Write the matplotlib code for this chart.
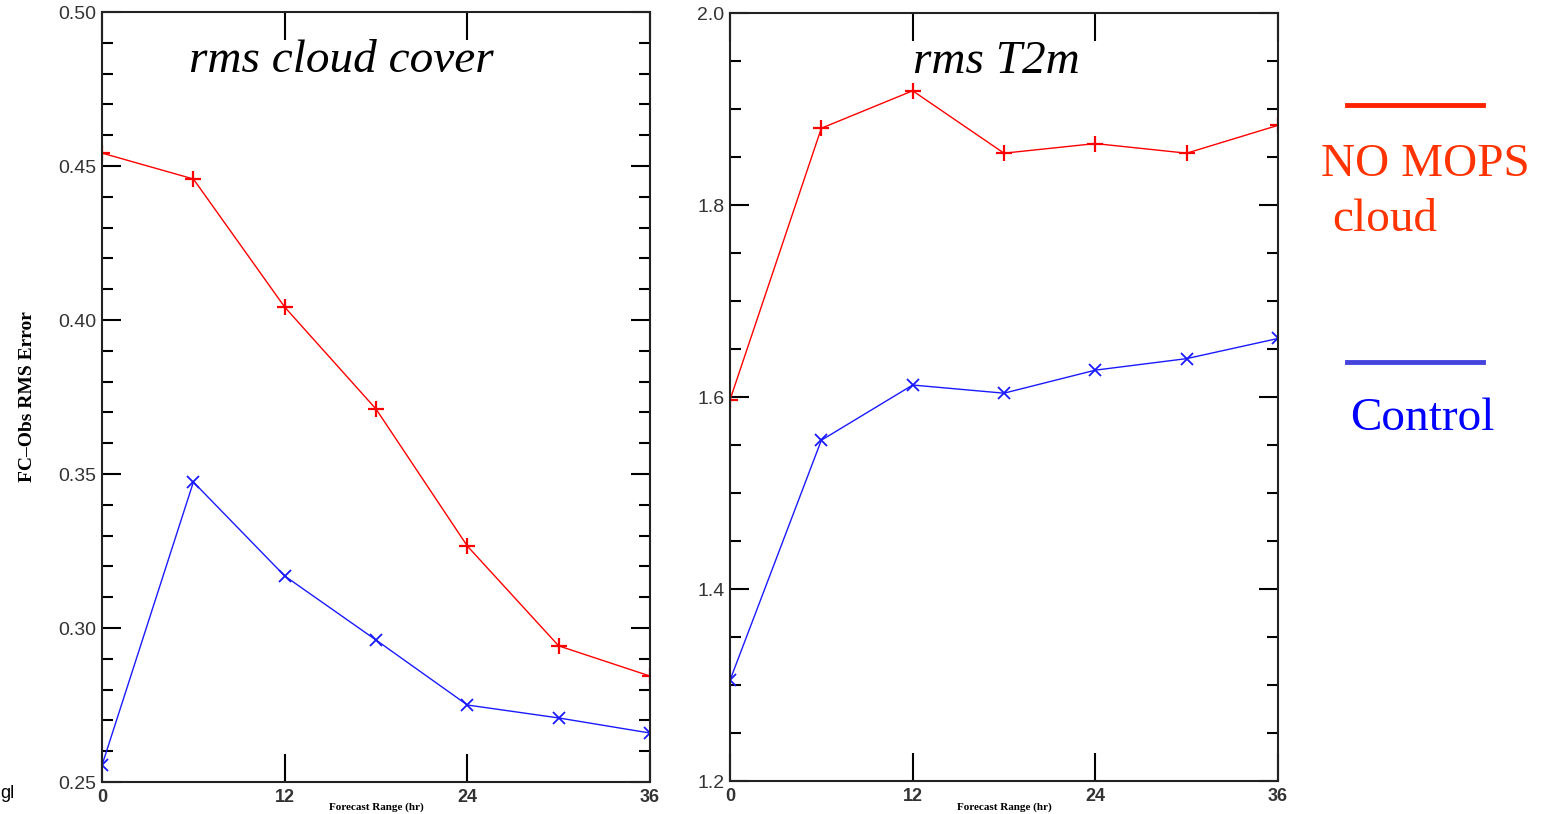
import matplotlib.pyplot as plt
from matplotlib.ticker import MultipleLocator

hours = [0, 6, 12, 18, 24, 30, 36]

cloud_nomops = [0.4542, 0.4458, 0.4042, 0.3711, 0.3266, 0.2942, 0.2844]
cloud_control = [0.2555, 0.3474, 0.3169, 0.2961, 0.2750, 0.2708, 0.2659]

t2m_nomops = [1.597, 1.880, 1.919, 1.854, 1.864, 1.854, 1.883]
t2m_control = [1.305, 1.555, 1.6125, 1.604, 1.628, 1.640, 1.661]

RED = "#ff0000"
BLUE = "#1a1aff"

fig = plt.figure(figsize=(15.44, 8.14), dpi=100)
ax1 = fig.add_axes([0.0661, 0.0393, 0.3549, 0.9459])
ax2 = fig.add_axes([0.4728, 0.0405, 0.3549, 0.9435])


def style(ax, ylim, major, minor):
    ax.set_xlim(0, 36)
    ax.set_ylim(*ylim)
    ax.xaxis.set_major_locator(MultipleLocator(12))
    ax.yaxis.set_major_locator(MultipleLocator(major))
    ax.yaxis.set_minor_locator(MultipleLocator(minor))
    ax.tick_params(axis="x", which="major", direction="in", length=20, width=1.5,
                   top=True, labelsize=13, pad=5)
    ax.tick_params(axis="y", which="major", direction="in", length=14, width=1.5,
                   right=True, labelsize=14, pad=4)
    ax.tick_params(axis="y", which="minor", direction="in", length=8, width=1.5,
                   right=True)
    for s in ax.spines.values():
        s.set_linewidth(1.5)
        s.set_color("#222222")
    for lab in ax.get_xticklabels() + ax.get_yticklabels():
        lab.set_fontfamily("Liberation Sans")
        lab.set_color("#333333")
    for lab in ax.get_xticklabels():
        lab.set_fontweight("bold")


ax1.plot(hours, cloud_nomops, color=RED, lw=1.0, marker="+", ms=12, mew=1.6)
ax1.plot(hours, cloud_control, color=BLUE, lw=1.0, marker="x", ms=8, mew=1.3)
style(ax1, (0.25, 0.50), 0.05, 0.01)
ax1.yaxis.set_major_formatter(plt.FormatStrFormatter("%.2f"))
ax1.text(0.437, 0.937, "rms cloud cover", transform=ax1.transAxes, ha="center",
         va="center", fontsize=34, style="italic", family="Liberation Serif")
ax1.set_ylabel("FC\u2013Obs RMS Error", fontsize=14, fontweight="bold",
               family="Liberation Serif", labelpad=16)

ax2.plot(hours, t2m_nomops, color=RED, lw=1.0, marker="+", ms=12, mew=1.6)
ax2.plot(hours, t2m_control, color=BLUE, lw=1.0, marker="x", ms=8, mew=1.3)
style(ax2, (1.2, 2.0), 0.2, 0.05)
ax2.yaxis.set_major_formatter(plt.FormatStrFormatter("%.1f"))
ax2.text(0.487, 0.937, "rms T2m", transform=ax2.transAxes, ha="center",
         va="center", fontsize=34, style="italic", family="Liberation Serif")

# x labels squeezed into the strip below the tick labels
for x_mid in (376 / 1544, 1004 / 1544):
    fig.text(x_mid, 2 / 814, "Forecast Range (hr)", fontsize=8, fontweight="bold",
             family="Liberation Serif", ha="center", va="bottom")

# legend drawn as free text and lines at the right
fig.add_artist(plt.Line2D([1347 / 1544, 1483 / 1544], [1 - 105 / 814, 1 - 105 / 814],
                          color="#ff2200", lw=3.5))
fig.add_artist(plt.Line2D([1347 / 1544, 1483 / 1544], [1 - 362 / 814, 1 - 362 / 814],
                          color="#4444dd", lw=3.5))
fig.text(1321 / 1544, 1 - 165 / 814, "NO MOPS", color="#ff3300", fontsize=34,
         family="Liberation Serif", va="center", ha="left")
fig.text(1332 / 1544, 1 - 220 / 814, "cloud", color="#ff3300", fontsize=34,
         family="Liberation Serif", va="center", ha="left")
fig.text(1350 / 1544, 1 - 419 / 814, "Control", color="#0000ff", fontsize=34,
         family="Liberation Serif", va="center", ha="left")
fig.text(0.0, 1 - 793 / 814, "gl", fontsize=13, family="Liberation Sans",
         va="center", ha="left")

fig.savefig("out.png", dpi=100)
